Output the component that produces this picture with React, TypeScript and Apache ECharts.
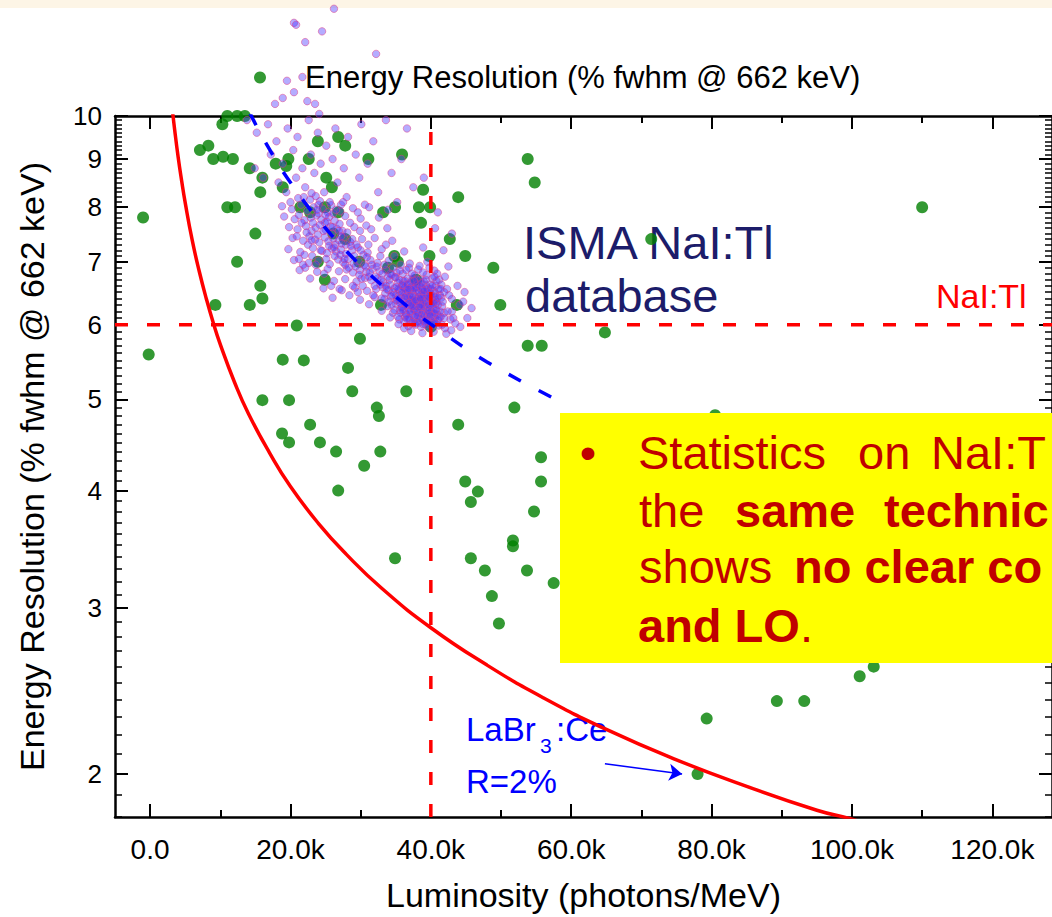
import React, { useEffect, useRef } from 'react';
import * as echarts from 'echarts';

const FONT = "'Liberation Sans', Arial, Helvetica, sans-serif";

// axis ranges (luminosity in photons/MeV, resolution in % fwhm)
const X_MIN = -5000;
const X_MAX = 128500;
const Y_MIN = 1.8;
const Y_MAX = 10;

const xMajorTicks = [0, 20000, 40000, 60000, 80000, 100000, 120000];
const xMinorTicks = [10000, 30000, 50000, 70000, 90000, 110000];
const yMajorTicks = [2, 3, 4, 5, 6, 7, 8, 9, 10];

const xTitle = 'Luminosity (photons/MeV)';
const yTitle = 'Energy Resolution (% fwhm @ 662 keV)';
const greenName = 'Energy Resolution (% fwhm @ 662 keV)';

// individual crystals: [luminosity (k photons/MeV), resolution (%)]
const greenPoints: number[][] = [
  [10.3, 9.8], [11.0, 10.0], [12.4, 10.0], [13.5, 10.0],
  [7.1, 9.2], [8.3, 9.3], [9.0, 9.0], [10.4, 9.05], [11.8, 9.0], [14.2, 8.8], [16.0, 8.6], [15.7, 8.3],
  [17.9, 8.9], [18.9, 8.4], [19.7, 9.0], [19.4, 8.85], [22.6, 9.0], [23.9, 9.4], [26.8, 9.5], [27.8, 9.3],
  [31.1, 9.0], [35.9, 9.1], [25.1, 8.6], [25.9, 8.4],
  [-1.0, 7.8], [-0.2, 5.58],
  [11.0, 8.0], [12.1, 8.0], [15.0, 7.5], [12.4, 7.0], [15.7, 6.6], [16.0, 6.4], [14.2, 6.3], [9.3, 6.3],
  [33.2, 7.9], [34.9, 8.0], [38.9, 8.35], [38.3, 8.0], [39.9, 8.0], [38.6, 7.7], [42.7, 7.4], [43.9, 8.2],
  [39.8, 7.1], [34.8, 7.1], [35.3, 7.0], [33.9, 6.9], [37.9, 6.7], [29.8, 7.0], [23.9, 7.0], [24.9, 6.7],
  [26.8, 7.9], [24.9, 8.0], [21.4, 8.0], [22.8, 7.9], [27.8, 7.4], [26.1, 7.5], [32.9, 6.3], [20.9, 5.99],
  [29.9, 5.8], [21.9, 5.5], [43.7, 6.3], [40.0, 5.97],
  [53.8, 9.0], [54.8, 8.5], [44.9, 7.1], [48.9, 6.9], [49.9, 6.3], [71.4, 7.4], [64.8, 5.89], [53.8, 5.7],
  [55.8, 5.7], [51.9, 4.9], [80.5, 4.81], [110.0, 8.0],
  [43.9, 4.7], [44.9, 4.09], [46.7, 3.99], [45.7, 3.89], [55.7, 4.34], [55.7, 4.09], [54.7, 3.8], [51.7, 3.54],
  [51.7, 3.49], [45.7, 3.39], [47.7, 3.29], [53.7, 3.29], [57.5, 3.19], [48.7, 3.09], [49.7, 2.89],
  [101.1, 2.54], [103.1, 2.6], [89.3, 2.39], [93.2, 2.39], [79.3, 2.29], [78.0, 2.0],
  [18.9, 5.51], [16.0, 4.99], [19.8, 4.99], [22.8, 4.7], [18.8, 4.6], [19.8, 4.5], [24.2, 4.5], [26.5, 4.4],
  [26.8, 4.0], [32.3, 4.9], [32.6, 4.8], [32.8, 4.4], [30.5, 4.25], [28.8, 5.1], [28.2, 5.4], [36.5, 5.1],
  [34.9, 3.39],
];

// ISMA NaI:Tl database: [luminosity (k photons/MeV), resolution (%)]
const ismaPoints: number[][] = [
  [26.2, 13.0], [20.5, 12.56], [20.8, 12.5], [24.5, 12.3], [22.1, 11.98], [32.2, 11.64], [19.5, 10.9],
  [21.7, 11.0], [20.5, 10.6], [18.9, 10.45], [17.8, 10.3], [22.4, 10.37], [23.5, 10.3], [24.1, 10.05],
  [13.8, 9.9], [15.2, 9.6], [16.8, 9.8], [18.0, 9.4], [19.6, 9.7], [21.0, 9.5], [22.6, 9.9], [23.9, 9.6],
  [25.1, 9.3], [26.4, 9.7], [28.2, 9.5], [30.1, 9.8], [31.8, 9.4], [33.6, 9.9], [36.6, 9.7],
  [17.2, 9.1], [18.9, 8.9], [20.4, 9.2], [21.7, 8.8], [22.9, 9.1], [24.3, 8.9], [26.0, 9.0], [27.6, 8.8],
  [29.3, 9.1], [31.0, 8.9], [34.4, 8.7], [35.8, 9.0],
  [16.1, 8.6], [18.3, 8.5], [19.4, 8.3], [20.8, 8.6], [22.1, 8.4], [23.4, 8.7], [24.8, 8.3], [26.7, 8.5],
  [28.0, 8.2], [29.8, 8.6], [32.5, 8.3], [35.2, 8.1], [37.5, 8.4], [39.0, 8.6], [14.9, 8.8], [30.6, 8.05],
  [33.9, 7.95], [27.2, 8.05],
  [18.8, 8.02], [20.2, 7.96], [21.5, 8.05], [22.4, 7.93], [23.3, 8.0], [24.6, 7.97], [25.8, 8.04], [27.1, 7.92],
  [28.9, 7.98], [31.2, 8.0],
  [19.1, 7.82], [20.6, 7.77], [21.2, 7.85], [22.0, 7.75], [22.9, 7.8], [23.7, 7.84], [24.4, 7.76], [25.5, 7.81],
  [26.3, 7.74], [27.8, 7.83], [30.0, 7.78], [32.6, 7.8],
  [19.8, 7.62], [21.0, 7.58], [22.2, 7.64], [23.0, 7.55], [23.6, 7.61], [24.2, 7.66], [25.0, 7.57], [25.7, 7.63],
  [26.6, 7.59], [27.4, 7.55], [29.1, 7.62], [31.5, 7.58], [33.8, 7.6],
  [20.3, 7.42], [21.8, 7.37], [22.7, 7.45], [23.5, 7.39], [24.1, 7.34], [24.9, 7.43], [25.4, 7.36], [26.1, 7.41],
  [26.9, 7.38], [27.6, 7.44], [28.5, 7.35], [30.2, 7.4], [32.0, 7.42], [34.5, 7.37],
  [19.7, 7.22], [21.4, 7.17], [23.2, 7.24], [24.5, 7.19], [25.2, 7.15], [25.9, 7.23], [26.5, 7.18], [27.2, 7.21],
  [27.9, 7.14], [28.8, 7.2], [29.6, 7.25], [31.0, 7.16], [33.0, 7.22], [36.2, 7.18],
  [20.5, 7.03], [22.6, 6.98], [24.0, 7.02], [25.6, 6.96], [26.8, 7.04], [27.5, 6.99], [28.2, 7.05], [29.0, 6.97],
  [29.7, 7.01], [30.5, 6.95], [31.4, 7.03], [32.4, 6.98], [34.0, 7.02], [37.0, 6.97], [39.5, 7.0],
  [21.3, 6.86], [23.8, 6.83], [25.3, 6.88], [26.9, 6.84], [28.0, 6.87], [28.9, 6.82], [29.9, 6.86], [30.8, 6.83],
  [31.7, 6.88], [32.7, 6.84], [33.6, 6.86], [35.1, 6.82], [38.2, 6.87], [40.5, 6.85],
  [22.8, 6.72], [26.2, 6.68], [27.8, 6.71], [29.4, 6.67], [30.6, 6.73], [31.5, 6.69], [32.4, 6.72], [33.2, 6.66],
  [34.1, 6.7], [35.0, 6.74], [36.0, 6.68], [37.4, 6.71], [39.0, 6.67], [41.2, 6.7],
  [24.7, 6.56], [27.3, 6.53], [29.2, 6.57], [30.9, 6.52], [32.2, 6.55], [33.1, 6.58], [34.0, 6.53], [34.8, 6.56],
  [35.5, 6.52], [36.3, 6.57], [37.1, 6.54], [37.9, 6.58], [38.7, 6.53], [39.6, 6.56], [40.4, 6.52], [42.3, 6.55],
  [26.0, 6.41], [29.9, 6.38], [32.0, 6.42], [33.4, 6.39], [34.3, 6.43], [35.1, 6.37], [35.8, 6.41], [36.5, 6.44],
  [37.2, 6.38], [37.8, 6.42], [38.4, 6.36], [39.1, 6.4], [39.8, 6.43], [40.6, 6.38], [41.5, 6.41], [43.0, 6.39],
  [31.2, 6.31], [33.8, 6.28], [35.0, 6.32], [35.9, 6.27], [36.6, 6.3], [37.3, 6.33], [37.9, 6.28], [38.5, 6.31],
  [39.2, 6.26], [39.9, 6.3], [40.7, 6.32], [41.6, 6.28], [44.1, 6.3],
  [33.0, 6.21], [34.6, 6.18], [35.6, 6.22], [36.4, 6.17], [37.1, 6.2], [37.7, 6.23], [38.3, 6.18], [38.9, 6.21],
  [39.5, 6.16], [40.1, 6.2], [40.8, 6.22], [41.9, 6.18],
  [34.2, 6.11], [35.5, 6.08], [36.3, 6.12], [37.0, 6.07], [37.6, 6.1], [38.2, 6.13], [38.8, 6.08], [39.4, 6.11],
  [40.0, 6.06], [40.6, 6.1], [41.4, 6.12], [42.8, 6.08],
  [35.4, 6.01], [36.8, 5.98], [37.7, 6.02], [38.6, 5.97], [39.3, 6.0], [40.2, 6.03], [41.1, 5.99],
  [37.2, 5.91], [38.8, 5.88], [40.4, 5.9], [42.2, 5.87],
  [35.3, 6.65], [35.9, 6.6], [36.4, 6.48], [36.9, 6.62], [37.5, 6.47], [38.0, 6.63], [38.6, 6.46], [39.3, 6.61],
  [39.9, 6.48], [40.7, 6.6], [36.1, 6.35], [36.8, 6.25], [37.4, 6.15], [38.0, 6.36], [38.6, 6.24], [39.1, 6.14],
  [39.7, 6.35], [40.3, 6.25], [40.9, 6.15], [41.3, 6.45],
  [35.6, 6.45], [36.2, 6.56], [36.7, 6.41], [37.3, 6.52], [37.8, 6.29], [38.3, 6.49], [38.9, 6.33], [39.5, 6.5],
  [40.1, 6.39], [40.6, 6.48], [37.0, 6.38], [37.6, 6.22], [38.1, 6.05], [38.7, 6.16], [39.3, 6.07], [39.8, 6.17],
  [40.4, 6.05], [36.5, 6.15], [35.8, 6.26], [41.0, 6.3],
  [34.6, 6.5], [35.2, 6.38], [34.9, 6.74], [36.0, 6.8], [36.7, 6.72], [37.7, 6.77], [38.5, 6.7], [39.4, 6.78],
  [40.2, 6.72], [41.5, 6.62], [37.2, 6.58], [38.2, 6.42], [39.0, 6.27], [39.6, 6.21], [40.0, 6.45], [38.8, 6.55],
  [37.5, 6.35], [36.3, 6.68], [35.4, 6.55], [34.2, 6.62],
  [33.5, 6.48], [34.0, 6.35], [32.8, 6.62], [33.1, 6.8], [34.6, 6.9], [35.7, 6.95], [36.9, 6.9], [38.4, 6.93],
  [39.8, 6.9], [40.9, 6.8],
  [21.9, 8.2], [22.8, 8.15], [23.6, 8.22], [24.2, 8.12], [25.3, 7.9], [26.1, 7.88], [24.9, 7.7], [25.9, 7.5],
  [26.9, 7.55], [27.9, 7.3], [28.6, 7.28], [29.4, 7.3], [30.4, 7.12], [30.9, 7.08], [31.6, 6.95], [32.3, 6.92],
  [33.4, 6.95], [34.2, 6.8], [22.5, 7.3], [21.2, 7.05], [22.1, 6.9], [23.6, 6.95], [24.8, 6.8], [25.8, 6.6],
  [27.0, 6.55], [28.4, 6.45], [28.9, 6.6], [29.6, 6.5], [30.3, 6.6], [31.8, 6.45],
  [42.0, 6.75], [42.5, 6.92], [43.0, 6.2], [43.2, 6.1], [44.2, 5.97], [42.0, 5.95], [43.8, 6.6], [44.6, 6.35],
  [45.2, 6.1], [45.8, 6.25], [41.8, 7.2], [43.0, 7.5], [40.6, 7.6], [38.9, 7.25], [41.0, 7.9], [42.6, 6.45],
  [43.5, 6.02], [44.8, 6.5], [41.6, 6.0], [42.9, 5.92],
  [20.0, 8.1], [21.1, 8.18], [23.0, 8.28], [24.0, 8.05], [25.6, 8.1], [26.5, 7.95], [27.5, 8.1], [29.6, 7.9],
  [30.8, 7.65], [28.5, 7.7], [27.0, 7.68], [25.2, 7.72], [24.0, 7.88], [23.2, 7.7], [22.3, 7.52], [21.6, 7.7],
  [20.9, 7.45], [23.9, 7.48], [24.7, 7.55], [26.4, 7.3], [27.3, 7.32], [28.1, 7.52], [29.9, 7.55], [31.1, 7.3],
  [32.8, 7.1], [33.6, 7.3], [30.0, 7.2], [29.3, 6.92], [27.8, 6.95], [26.3, 7.1], [25.1, 7.05], [23.1, 7.1],
  [22.0, 7.12], [21.8, 6.95], [31.2, 6.75], [32.0, 6.6], [30.1, 6.72], [33.9, 6.75], [34.8, 7.1], [35.6, 6.85],
  [36.0, 6.62], [36.6, 6.52], [37.0, 6.44], [37.6, 6.58], [38.2, 6.52], [38.8, 6.4], [39.4, 6.45], [40.0, 6.55],
  [40.5, 6.43], [41.1, 6.55], [36.4, 6.3], [37.0, 6.2], [37.5, 6.27], [38.1, 6.19], [38.7, 6.3], [39.2, 6.36],
  [39.8, 6.24], [40.3, 6.12], [40.8, 6.35], [41.3, 6.2], [35.7, 6.18], [36.2, 6.05], [36.9, 6.1], [37.4, 6.04],
  [38.4, 6.1], [38.9, 6.01], [39.5, 6.04], [40.5, 6.17], [41.0, 6.07], [41.7, 6.35], [35.0, 6.45], [34.8, 6.22],
  [35.3, 6.12], [34.4, 6.3], [33.6, 6.6], [33.0, 6.4], [34.4, 6.78], [35.5, 6.7], [36.5, 6.86], [37.3, 6.8],
  [38.0, 6.7], [38.9, 6.82], [39.9, 6.62], [40.8, 6.68], [41.9, 6.5], [42.4, 6.2], [41.9, 6.1], [37.8, 6.0],
  [39.7, 5.96], [36.2, 5.95],
  [35.1, 6.58], [35.6, 6.33], [35.9, 6.5], [36.3, 6.42], [36.6, 6.62], [36.9, 6.33], [37.1, 6.66], [37.4, 6.43],
  [37.7, 6.55], [37.9, 6.13], [38.1, 6.62], [38.4, 6.27], [38.6, 6.58], [38.9, 6.45], [39.1, 6.05], [39.4, 6.55],
  [39.6, 6.3], [39.9, 6.14], [40.2, 6.6], [40.4, 6.33], [40.7, 6.22], [41.0, 6.42], [41.2, 6.1], [36.0, 6.22],
  [36.6, 6.09], [37.2, 6.29], [37.8, 6.37], [38.3, 6.03], [38.5, 6.4], [39.0, 6.52], [39.7, 6.41], [40.1, 6.31],
  [40.6, 6.02], [41.4, 6.55], [35.4, 6.4], [36.8, 6.55], [37.6, 6.68], [38.7, 6.64], [39.3, 6.7], [40.5, 6.75],
  [26.2, 7.25], [27.1, 7.12], [27.7, 7.05], [28.3, 6.9], [29.1, 7.1], [29.8, 6.78], [30.7, 6.92], [31.3, 6.82],
  [32.1, 6.75], [32.9, 6.7], [33.7, 6.55], [34.5, 6.45], [28.8, 7.4], [27.2, 7.45], [26.0, 7.62], [25.0, 7.85],
  [23.8, 7.95], [23.0, 7.38], [24.3, 7.2], [25.5, 7.28],
];

// statistical limit curve: [k photons/MeV, %]
const limitCurve: number[][] = [
  [3.1, 10.27], [3.5, 9.67], [4, 9.04], [4.5, 8.53], [5, 8.09], [6, 7.38], [7, 6.84], [8, 6.4], [9, 6.03],
  [10, 5.72], [12, 5.22], [14, 4.83], [17, 4.39], [20, 4.04], [24, 3.69], [28, 3.42], [33, 3.15], [40, 2.86],
  [48, 2.61], [56, 2.41], [65, 2.23], [75, 2.07], [85, 1.94], [95, 1.83], [100, 1.79], [105, 1.74],
];

// trend of the ISMA database (blue dashed): [k photons/MeV, %]
const ismaTrend: number[][] = [
  [14.2, 10.08], [15.5, 9.65], [17, 9.22], [18.5, 8.83], [20, 8.5], [22, 8.1], [24, 7.76], [26, 7.45],
  [28, 7.18], [30.5, 6.88], [33, 6.61], [35.5, 6.38], [38, 6.16], [40, 6.01], [42.5, 5.83], [45, 5.66],
  [48, 5.48], [51, 5.32], [54.5, 5.15], [58.5, 4.97],
];

const naiLightOutput = 40000; // photons/MeV
const naiResolution = 6; // %
const labrArrowFrom = [64.8, 2.05];
const labrArrowTo = [75.8, 2.0];

const toXY = (p: number[]) => [p[0] * 1000, Math.log10(p[1])];

const yMinorTicks: number[] = [];
for (let i = 18; i <= 100; i++) yMinorTicks.push(i / 10);

function buildOption() {
  const yMin = Math.log10(Y_MIN);
  const yMax = Math.log10(Y_MAX);
  const lineBlack = { color: '#000', width: 2.5 };
  const tickBlack = { color: '#000', width: 2 };
  const xFmt = (v: number) => (v === 0 ? '0.0' : (v / 1000).toFixed(1) + 'k');
  const yFmt = (v: number) => String(Math.round(Math.pow(10, v)));
  const majorY = yMajorTicks.map((v) => Math.log10(v));
  const minorY = yMinorTicks.map((v) => Math.log10(v));

  const xBase = { type: 'value', min: X_MIN, max: X_MAX, splitLine: { show: false }, gridIndex: 0 };
  const yBase = { type: 'value', min: yMin, max: yMax, splitLine: { show: false }, gridIndex: 0 };

  const xAxis = [
    {
      ...xBase, position: 'bottom',
      axisLine: { show: true, onZero: false, lineStyle: lineBlack },
      axisTick: { show: true, inside: true, length: 13, lineStyle: tickBlack, customValues: xMajorTicks },
      axisLabel: { show: true, customValues: xMajorTicks, formatter: xFmt, fontSize: 28, color: '#000', fontFamily: FONT, margin: 18 },
      name: xTitle, nameLocation: 'middle', nameGap: 61,
      nameTextStyle: { fontSize: 34, color: '#000', fontFamily: FONT },
    },
    {
      ...xBase, position: 'bottom',
      axisLine: { show: false, onZero: false },
      axisTick: { show: true, inside: true, length: 7, lineStyle: tickBlack, customValues: xMinorTicks },
      axisLabel: { show: false },
    },
    {
      ...xBase, position: 'top',
      axisLine: { show: true, onZero: false, lineStyle: lineBlack },
      axisTick: { show: true, inside: true, length: 13, lineStyle: tickBlack, customValues: xMajorTicks },
      axisLabel: { show: false },
    },
    {
      ...xBase, position: 'top',
      axisLine: { show: false, onZero: false },
      axisTick: { show: true, inside: true, length: 7, lineStyle: tickBlack, customValues: xMinorTicks },
      axisLabel: { show: false },
    },
  ];

  const yAxis = [
    {
      ...yBase, position: 'left',
      axisLine: { show: true, onZero: false, lineStyle: lineBlack },
      axisTick: { show: true, inside: true, length: 13, lineStyle: tickBlack, customValues: majorY },
      axisLabel: { show: true, customValues: majorY, formatter: yFmt, fontSize: 26, color: '#000', fontFamily: FONT, margin: 13 },
      name: yTitle, nameLocation: 'middle', nameGap: 66,
      nameTextStyle: { fontSize: 34, color: '#000', fontFamily: FONT },
    },
    {
      ...yBase, position: 'left',
      axisLine: { show: false, onZero: false },
      axisTick: { show: true, inside: true, length: 7, lineStyle: { color: '#000', width: 1.5 }, customValues: minorY },
      axisLabel: { show: false },
    },
    {
      ...yBase, position: 'right',
      axisLine: { show: true, onZero: false, lineStyle: lineBlack },
      axisTick: { show: true, inside: true, length: 13, lineStyle: tickBlack, customValues: majorY },
      axisLabel: { show: false },
    },
    {
      ...yBase, position: 'right',
      axisLine: { show: false, onZero: false },
      axisTick: { show: true, inside: true, length: 7, lineStyle: { color: '#000', width: 1.5 }, customValues: minorY },
      axisLabel: { show: false },
    },
  ];

  const txt = (text: string, x: number, y: number, size: number, fill: string, extra: any = {}, z = 0) => ({
    type: 'text', x, y, z, silent: true,
    style: {
      text, fill, fontSize: size, fontFamily: FONT, fontWeight: extra.bold ? 'bold' : 'normal',
      align: extra.align || 'left', textAlign: extra.align || 'left',
      verticalAlign: 'middle', textVerticalAlign: 'middle', rich: extra.rich,
    },
  });

  const boxRed = '#c00000';
  const graphic = [
    { type: 'rect', x: 0, y: 0, z: 0, silent: true, shape: { x: 0, y: 0, width: 1052, height: 8 }, style: { fill: '#fdf5e6' } },
    txt('ISMA NaI:Tl', 523, 242, 47, '#1c1c6a'),
    txt('database', 525, 295, 47, '#1c1c6a'),
    txt('NaI:Tl', 936, 296, 34, '#ff0000'),
    txt('LaBr', 466, 729, 33, '#0000ff'),
    txt('3', 540, 745, 21, '#0000ff'),
    txt(':Ce', 556, 729, 33, '#0000ff'),
    txt('R=2%', 466, 781, 33, '#0000ff'),
    { type: 'rect', x: 0, y: 0, z: 100, silent: true, shape: { x: 560, y: 413, width: 492, height: 250 }, style: { fill: '#ffff00' } },
    txt('\u2022', 588, 452, 47, boxRed, { align: 'center' }, 101),
    txt('Statistics', 638, 452, 47, boxRed, {}, 101),
    txt('on', 858, 452, 47, boxRed, {}, 101),
    txt('NaI:T', 931, 452, 47, boxRed, {}, 101),
    txt('the', 639, 510, 47, boxRed, {}, 101),
    txt('same', 735, 510, 47, boxRed, { bold: true }, 101),
    txt('technic', 884, 510, 47, boxRed, { bold: true }, 101),
    txt('shows', 639, 566, 47, boxRed, {}, 101),
    txt('no clear co', 794, 566, 47, boxRed, { bold: true }, 101),
    txt('{b|and LO}.', 638, 625, 47, boxRed, { rich: { b: { fontWeight: 'bold', fontSize: 47, fontFamily: FONT, fill: boxRed, color: boxRed } } }, 101),
  ];

  return {
    animation: false,
    backgroundColor: '#ffffff',
    grid: { left: 115, top: 116, width: 937, height: 701, containLabel: false, outerBoundsMode: 'none' },
    legend: {
      show: true, left: 254, top: 62, padding: 0, itemWidth: 80, itemHeight: 12, itemGap: 0,
      selectedMode: false, orient: 'horizontal',
      textStyle: { fontSize: 31, color: '#000', fontFamily: FONT },
      data: [{ name: greenName, icon: 'circle' }],
    },
    xAxis,
    yAxis,
    graphic,
    series: [
      {
        name: 'NaI:Tl light output', type: 'line', xAxisIndex: 0, yAxisIndex: 0, showSymbol: false, symbol: 'none',
        data: [[naiLightOutput, yMin], [naiLightOutput, yMax]],
        lineStyle: { color: '#ff0000', width: 3.5, type: [13, 19] }, silent: true,
      },
      {
        name: 'NaI:Tl resolution', type: 'line', xAxisIndex: 0, yAxisIndex: 0, showSymbol: false, symbol: 'none',
        data: [[X_MIN, Math.log10(naiResolution)], [X_MAX, Math.log10(naiResolution)]],
        lineStyle: { color: '#ff0000', width: 3.5, type: [13, 19] }, silent: true,
      },
      {
        name: 'Statistical limit', type: 'line', xAxisIndex: 0, yAxisIndex: 0, showSymbol: false, symbol: 'none',
        smooth: true, data: limitCurve.map(toXY),
        lineStyle: { color: '#ff0000', width: 3.5 }, silent: true,
      },
      {
        name: greenName, type: 'scatter', xAxisIndex: 0, yAxisIndex: 0, symbol: 'circle', symbolSize: 12,
        data: greenPoints.map(toXY), itemStyle: { color: '#007f00' }, clip: true,
        markLine: {
          silent: true, symbol: ['none', 'arrow'], symbolSize: 13, animation: false,
          label: { show: false },
          lineStyle: { color: '#0000ff', width: 1.5, type: 'solid' },
          data: [[{ coord: toXY(labrArrowFrom) }, { coord: toXY(labrArrowTo) }]],
        },
      },
      {
        name: 'ISMA NaI:Tl database', type: 'scatter', xAxisIndex: 0, yAxisIndex: 0, symbol: 'circle', symbolSize: 7.5,
        data: ismaPoints.map(toXY), clip: false,
        itemStyle: { color: 'rgba(75,55,255,0.52)', borderColor: 'rgba(230,60,130,0.6)', borderWidth: 1 },
      },
      {
        name: 'ISMA trend', type: 'line', xAxisIndex: 0, yAxisIndex: 0, showSymbol: false, symbol: 'none',
        smooth: true, data: ismaTrend.map(toXY),
        lineStyle: { color: '#0000ff', width: 3.5, type: [14, 20] }, silent: true,
      },
    ],
  };
}

export default function App() {
  const ref = useRef<HTMLDivElement>(null);
  useEffect(() => {
    if (!ref.current) return;
    const chart = echarts.init(ref.current, null, { renderer: 'svg' });
    chart.setOption(buildOption() as any);
    return () => chart.dispose();
  }, []);
  return (
    <div
      ref={ref}
      style={{ position: 'fixed', left: 0, top: 0, width: 1052, height: 917, background: '#fff' }}
    />
  );
}
